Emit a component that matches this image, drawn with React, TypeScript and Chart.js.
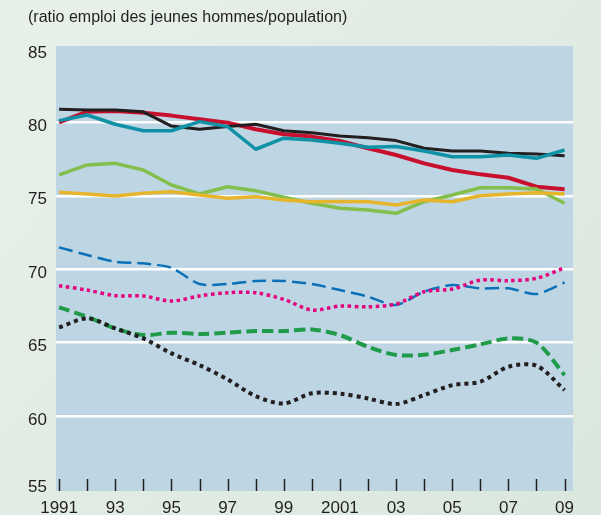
import React, { useEffect, useRef } from "react";
import { Chart, registerables } from "chart.js";

Chart.register(...registerables);

const years = [1991, 1992, 1993, 1994, 1995, 1996, 1997, 1998, 1999, 2000, 2001, 2002, 2003, 2004, 2005, 2006, 2007, 2008, 2009];
const yTicks = [55, 60, 65, 70, 75, 80, 85];
const title = "(ratio emploi des jeunes hommes/population)";

const blackSolid = [80.9, 80.85, 80.85, 80.72, 79.75, 79.53, 79.72, 79.87, 79.43, 79.3, 79.07, 78.96, 78.76, 78.24, 78.05, 78.05, 77.9, 77.85, 77.73];
const redSolid = [80.0, 80.73, 80.77, 80.66, 80.46, 80.21, 79.98, 79.53, 79.19, 79.03, 78.73, 78.24, 77.78, 77.21, 76.76, 76.46, 76.23, 75.62, 75.44];
const tealSolid = [80.12, 80.5, 79.87, 79.43, 79.43, 80.05, 79.71, 78.17, 78.92, 78.8, 78.58, 78.3, 78.35, 78.05, 77.66, 77.66, 77.78, 77.55, 78.12];
const greenSolid = [76.42, 77.1, 77.21, 76.76, 75.74, 75.12, 75.62, 75.35, 74.9, 74.49, 74.15, 74.03, 73.81, 74.6, 75.05, 75.55, 75.55, 75.46, 74.49];
const yellowSolid = [75.24, 75.12, 74.99, 75.17, 75.28, 75.05, 74.83, 74.94, 74.71, 74.6, 74.62, 74.6, 74.37, 74.71, 74.6, 75.0, 75.12, 75.21, 75.12];
const blueDashed = [71.49, 70.97, 70.51, 70.4, 70.1, 68.99, 69.0, 69.2, 69.2, 68.99, 68.58, 68.13, 67.56, 68.47, 68.92, 68.7, 68.7, 68.31, 69.1];
const pinkDotted = [68.88, 68.58, 68.2, 68.18, 67.83, 68.18, 68.4, 68.4, 67.95, 67.22, 67.49, 67.44, 67.63, 68.47, 68.65, 69.26, 69.22, 69.38, 70.1];
const greenDashed = [67.4, 66.77, 65.97, 65.52, 65.68, 65.59, 65.68, 65.79, 65.79, 65.9, 65.52, 64.72, 64.16, 64.18, 64.5, 64.88, 65.29, 65.0, 62.79];
const blackDotted = [66.04, 66.65, 65.97, 65.29, 64.27, 63.47, 62.5, 61.36, 60.86, 61.55, 61.53, 61.2, 60.82, 61.43, 62.11, 62.34, 63.36, 63.43, 61.77];

const FONT = "'Liberation Sans', Arial, sans-serif";
const TEXT = "#231f20";

function pts(vals: number[]) {
  return vals.map((v, i) => ({ x: years[i], y: v }));
}

const bgPlugin = {
  id: "bgPlugin",
  beforeDraw(chart: any) {
    const { ctx, chartArea, width, height, scales } = chart;
    ctx.save();
    const g = ctx.createLinearGradient(0, 0, width, height);
    g.addColorStop(0, "#e8f0ea");
    g.addColorStop(1, "#dae7de");
    ctx.fillStyle = g;
    ctx.fillRect(0, 0, width, height);
    ctx.fillStyle = "#bed5e4";
    ctx.fillRect(chartArea.left, chartArea.top, chartArea.right - chartArea.left, chartArea.bottom - chartArea.top);
    ctx.fillStyle = TEXT;
    ctx.font = "16px " + FONT;
    ctx.textBaseline = "middle";
    ctx.textAlign = "left";
    ctx.fillText(title, 28, 18);
    // y-axis labels, placed from the y scale
    ctx.font = "17px " + FONT;
    ctx.textAlign = "right";
    yTicks.forEach((v) => {
      const y = scales.y.getPixelForValue(v) + (v === 55 ? -2 : 4);
      ctx.fillText(String(v), chartArea.left - 9, y);
    });
    ctx.restore();
  },
  beforeDatasetsDraw(chart: any) {
    const { ctx, chartArea, scales } = chart;
    ctx.save();
    ctx.strokeStyle = TEXT;
    ctx.lineWidth = 1.5;
    years.forEach((yr) => {
      const x = Math.round(scales.x.getPixelForValue(yr)) + 0.5;
      ctx.beginPath();
      ctx.moveTo(x, chartArea.bottom);
      ctx.lineTo(x, chartArea.bottom - 12);
      ctx.stroke();
    });
    ctx.restore();
  },
};

export default function App() {
  const ref = useRef<HTMLCanvasElement>(null);
  useEffect(() => {
    document.body.style.margin = "0";
    const ds = (data: number[], color: string, width: number, dash: number[] = [], tension = 0) => ({
      data: pts(data),
      borderColor: color,
      borderWidth: width,
      borderDash: dash,
      tension,
      pointRadius: 0,
      fill: false,
      borderCapStyle: "butt" as const,
      borderJoinStyle: "round" as const,
    });
    const chart = new Chart(ref.current!, {
      type: "line",
      data: {
        datasets: [
          ds(blackDotted, "#231f20", 4, [4, 4], 0.3),
          ds(greenDashed, "#1f9b4a", 4, [11, 5], 0.3),
          ds(pinkDotted, "#e5007d", 3.5, [3.5, 3.5], 0.3),
          ds(blueDashed, "#0a70b8", 2.5, [14, 6], 0.25),
          ds(yellowSolid, "#e7b52b", 3.5),
          ds(greenSolid, "#84bf4d", 3.5),
          ds(tealSolid, "#0f91a6", 3.5),
          ds(blackSolid, "#231f20", 3),
          ds(redSolid, "#c8102e", 4),
        ],
      },
      options: {
        animation: false,
        responsive: false,
        maintainAspectRatio: false,
        layout: { padding: { left: 0, top: 46, right: 28, bottom: 0 } },
        plugins: { legend: { display: false }, tooltip: { enabled: false }, title: { display: false } },
        scales: {
          x: {
            type: "linear",
            min: 1990.89,
            max: 2009.3,
            afterBuildTicks: (s: any) => {
              s.ticks = years.map((v) => ({ value: v }));
            },
            afterFit: (s: any) => {
              s.height = 24;
            },
            grid: { display: false, drawTicks: false },
            border: { display: false },
            ticks: {
              autoSkip: false,
              maxRotation: 0,
              padding: 7,
              color: TEXT,
              font: { family: FONT, size: 17 },
              callback: (v: any) => {
                const n = Number(v);
                if (n % 2 === 0) return "";
                if (n === 1991 || n === 2001) return String(n);
                return String(n).slice(2);
              },
            },
          },
          y: {
            min: 54.9,
            max: 85.2,
            afterBuildTicks: (s: any) => {
              s.ticks = yTicks.map((v) => ({ value: v }));
            },
            afterFit: (s: any) => {
              s.width = 56;
            },
            border: { display: false },
            grid: {
              drawTicks: false,
              lineWidth: 2.5,
              color: (c: any) => (c.tick && (c.tick.value === 55 || c.tick.value === 85) ? "rgba(0,0,0,0)" : "#ffffff"),
            },
            ticks: { display: false },
          },
        },
      },
      plugins: [bgPlugin],
    } as any);
    return () => chart.destroy();
  }, []);
  return <canvas ref={ref} width={601} height={515} style={{ display: "block", width: 601, height: 515 }} />;
}
